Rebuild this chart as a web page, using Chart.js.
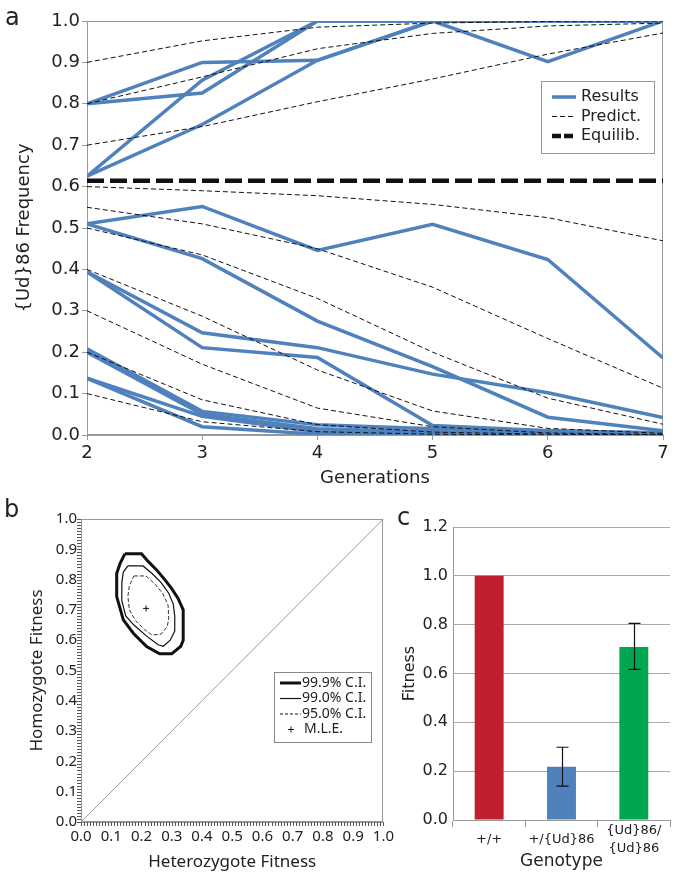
<!DOCTYPE html>
<html>
<head>
<meta charset="utf-8">
<script src="https://cdn.jsdelivr.net/npm/chart.js@4.4.1/dist/chart.umd.min.js"></script>
<style>
  body { margin: 0; background: #fff; width: 675px; height: 877px; position: relative; overflow: hidden; }
  canvas { position: absolute; }
  .tag { position: absolute; font-family: "DejaVu Sans"; font-size: 24px; line-height: 1; color: #222; }
</style>
</head>
<body>
<canvas id="chartA" width="675" height="495" style="left:0;top:0"></canvas>
<canvas id="chartB" width="400" height="387" style="left:0;top:490px"></canvas>
<canvas id="chartC" width="275" height="387" style="left:400px;top:490px"></canvas>
<div class="tag" style="left:5px;top:5px">a</div>
<div class="tag" style="left:4px;top:497px">b</div>
<div class="tag" style="left:397px;top:505px">c</div>
<script>
// ---- panel a data ----
const generations = [2, 3, 4, 5, 6, 7];
const results = [
  [0.80, 0.900, 0.905, 1.000, 1.000, 1.000],
  [0.80, 0.826, 1.000, 1.000, 1.000, 1.000],
  [0.625, 0.857, 1.000, 1.000, 1.000, 1.000],
  [0.625, 0.750, 0.905, 1.000, 0.902, 1.000],
  [0.510, 0.552, 0.446, 0.509, 0.424, 0.186],
  [0.510, 0.426, 0.275, 0.165, 0.043, 0.010],
  [0.394, 0.247, 0.211, 0.147, 0.102, 0.042],
  [0.394, 0.211, 0.187, 0.023, 0.010, 0.005],
  [0.208, 0.057, 0.025, 0.015, 0.010, 0.005],
  [0.200, 0.050, 0.015, 0.008, 0.004, 0.002],
  [0.137, 0.045, 0.008, 0.003, 0.001, 0.000],
  [0.137, 0.020, 0.002, 0.000, 0.000, 0.000]
];
const predicted = [
  [0.90, 0.952, 0.985, 0.995, 0.999, 1.000],
  [0.80, 0.865, 0.933, 0.970, 0.988, 0.995],
  [0.70, 0.745, 0.805, 0.860, 0.920, 0.971],
  [0.60, 0.590, 0.578, 0.557, 0.525, 0.469],
  [0.55, 0.510, 0.450, 0.357, 0.233, 0.113],
  [0.50, 0.435, 0.330, 0.200, 0.089, 0.026],
  [0.40, 0.287, 0.157, 0.058, 0.016, 0.004],
  [0.30, 0.171, 0.065, 0.020, 0.005, 0.001],
  [0.20, 0.085, 0.025, 0.007, 0.002, 0.000],
  [0.10, 0.032, 0.008, 0.002, 0.000, 0.000]
];
const equilibrium = 0.614;
const legendLabelsA = ['Results', 'Predict.', 'Equilib.'];

// ---- panel b data (confidence contours, [heterozygote, homozygote]) ----
const ci999 = [[0.145,0.885],[0.200,0.885],[0.222,0.860],[0.250,0.832],[0.277,0.800],[0.300,0.770],[0.321,0.738],[0.338,0.700],[0.338,0.600],[0.330,0.580],[0.300,0.555],[0.260,0.555],[0.217,0.579],[0.173,0.623],[0.140,0.667],[0.118,0.744],[0.118,0.820],[0.129,0.853],[0.145,0.885]];
const ci990 = [[0.155,0.845],[0.205,0.845],[0.235,0.820],[0.265,0.790],[0.290,0.755],[0.305,0.720],[0.310,0.680],[0.310,0.630],[0.295,0.600],[0.272,0.580],[0.255,0.585],[0.215,0.615],[0.175,0.650],[0.148,0.680],[0.135,0.730],[0.135,0.790],[0.140,0.825],[0.155,0.845]];
const ci950 = [[0.175,0.812],[0.215,0.812],[0.245,0.785],[0.270,0.755],[0.288,0.715],[0.290,0.670],[0.285,0.645],[0.265,0.620],[0.235,0.617],[0.210,0.635],[0.180,0.665],[0.160,0.700],[0.155,0.745],[0.160,0.780],[0.175,0.812]];
const mle = [0.215, 0.705];
const legendLabelsB = ['99.9% C.I.', '99.0% C.I.', '95.0% C.I.', 'M.L.E.'];

// ---- panel c data ----
const genotypes = ['+/+', '+/{Ud}86', ['{Ud}86/', '{Ud}86']];
const fitness = [1.0, 0.218, 0.709];
const errLow = [null, 0.139, 0.617];
const errHigh = [null, 0.298, 0.805];
const barColors = ['#BE1E2D', '#4F81BD', '#00A651'];

const fontA = 'DejaVu Sans';
const fontB = 'Noto Sans';
const ink = '#222';

const styleResults = { borderColor: '#4F81BD', borderWidth: 3.5, borderDash: [] };
const stylePredict = { borderColor: '#111', borderWidth: 1, borderDash: [5, 3] };
const styleEquil = { borderColor: '#111', borderWidth: 4.5, borderDash: [17, 6] };

const toPts = arr => arr.map((v, i) => ({ x: generations[i], y: v }));
const pairPts = arr => arr.map(p => ({ x: p[0], y: p[1] }));

// box around the plot area
const framePlugin = {
  id: 'frame',
  beforeDatasetsDraw(chart, args, opts) {
    if (!opts.color) return;
    const a = chart.chartArea, ctx = chart.ctx;
    ctx.save();
    ctx.strokeStyle = opts.color;
    ctx.lineWidth = 1;
    ctx.strokeRect(Math.round(a.left) + 0.5, Math.round(a.top) + 0.5, Math.round(a.right - a.left) - 1, Math.round(a.bottom - a.top) - 1);
    ctx.restore();
  }
};

/* Chart a */
const dsA = [];
results.forEach(r => dsA.push(Object.assign({ data: toPts(r), pointRadius: 0, order: 2 }, styleResults)));
predicted.forEach(r => dsA.push(Object.assign({ data: toPts(r), pointRadius: 0, order: 1 }, stylePredict)));
dsA.push(Object.assign({ data: [{ x: 2, y: equilibrium }, { x: 7, y: equilibrium }], pointRadius: 0, order: 0 }, styleEquil));

const legendA = {
  id: 'legendA',
  afterDraw(chart) {
    const ctx = chart.ctx;
    const styles = [styleResults, stylePredict, styleEquil];
    ctx.save();
    ctx.fillStyle = '#fff';
    ctx.fillRect(541, 81, 113, 72);
    ctx.strokeStyle = '#999';
    ctx.lineWidth = 1;
    ctx.strokeRect(541.5, 81.5, 113, 72);
    ctx.font = '16px "' + fontA + '"';
    ctx.textBaseline = 'middle';
    legendLabelsA.forEach((t, i) => {
      const y = 97 + i * 19.5;
      const s = styles[i];
      ctx.strokeStyle = s.borderColor;
      ctx.lineWidth = s.borderWidth;
      ctx.setLineDash(i === 2 ? [9, 3] : s.borderDash);
      ctx.beginPath();
      ctx.moveTo(552, y);
      ctx.lineTo(576, y);
      ctx.stroke();
      ctx.setLineDash([]);
      ctx.fillStyle = ink;
      ctx.fillText(t, 581, y);
    });
    ctx.restore();
  }
};

new Chart(document.getElementById('chartA'), {
  type: 'line',
  data: { datasets: dsA },
  plugins: [framePlugin, legendA],
  options: {
    responsive: false,
    animation: false,
    elements: { line: { tension: 0, fill: false } },
    layout: { padding: { top: 21, right: 12, left: 0, bottom: 0 } },
    plugins: { legend: { display: false }, tooltip: { enabled: false }, frame: { color: '#999' } },
    scales: {
      x: {
        type: 'linear', min: 2, max: 7,
        ticks: { stepSize: 1, color: ink, font: { family: fontA, size: 18 }, padding: 3 },
        grid: { drawOnChartArea: false, tickLength: 5, color: '#999' },
        border: { color: '#999' },
        title: { display: true, text: 'Generations', color: ink, font: { family: fontA, size: 18 }, padding: { top: 0, bottom: 6 } },
        afterFit: s => { s.height = 60; }
      },
      y: {
        min: 0, max: 1,
        ticks: { stepSize: 0.1, color: ink, font: { family: fontA, size: 18 }, padding: 2, callback: v => v.toFixed(1) },
        grid: { drawOnChartArea: false, tickLength: 5, color: '#999' },
        border: { color: '#999' },
        title: { display: true, text: '{Ud}86 Frequency', color: ink, font: { family: fontA, size: 18 }, padding: { top: 14, bottom: 0 } },
        afterFit: s => { s.width = 87; }
      }
    }
  }
});

/* Chart b */
const legendB = {
  id: 'legendB',
  afterDraw(chart) {
    const ctx = chart.ctx;
    ctx.save();
    ctx.fillStyle = '#fff';
    ctx.fillRect(274, 182, 97, 70);
    ctx.strokeStyle = '#888';
    ctx.lineWidth = 1;
    ctx.strokeRect(274.5, 182.5, 97, 70);
    ctx.font = '14px "' + fontB + '"';
    ctx.textBaseline = 'middle';
    const widths = [3, 1.2, 1, 0];
    legendLabelsB.forEach((t, i) => {
      const y = 193 + i * 15.5;
      ctx.strokeStyle = '#111';
      if (i < 3) {
        ctx.lineWidth = widths[i];
        ctx.setLineDash(i === 2 ? [3, 2] : []);
        ctx.beginPath();
        ctx.moveTo(280, y);
        ctx.lineTo(301, y);
        ctx.stroke();
        ctx.setLineDash([]);
      } else {
        ctx.lineWidth = 1;
        ctx.beginPath();
        ctx.moveTo(288, y); ctx.lineTo(294, y);
        ctx.moveTo(291, y - 3); ctx.lineTo(291, y + 3);
        ctx.stroke();
      }
      ctx.fillStyle = ink;
      ctx.fillText(t, i < 3 ? 302 : 304, y);
    });
    ctx.restore();
  }
};

// small ruler ticks every 0.01 along both axes of panel b
const minorTicks = {
  id: 'minorTicks',
  afterDraw(chart) {
    const ctx = chart.ctx;
    const xs = chart.scales.x, ys = chart.scales.y;
    const a = chart.chartArea;
    ctx.save();
    ctx.strokeStyle = '#555';
    ctx.lineWidth = 1;
    ctx.beginPath();
    for (let k = 0; k <= 100; k++) {
      const px = Math.round(xs.getPixelForValue(k / 100)) + 0.5;
      ctx.moveTo(px, a.bottom);
      ctx.lineTo(px, a.bottom + 4);
      const py = Math.round(ys.getPixelForValue(k / 100)) + 0.5;
      ctx.moveTo(a.left - 4, py);
      ctx.lineTo(a.left, py);
    }
    ctx.stroke();
    ctx.restore();
  }
};

new Chart(document.getElementById('chartB'), {
  type: 'scatter',
  data: {
    datasets: [
      { data: [{ x: 0, y: 0 }, { x: 1, y: 1 }], showLine: true, borderColor: '#999', borderWidth: 1, pointRadius: 0 },
      { data: pairPts(ci999), showLine: true, borderColor: '#111', borderWidth: 3, pointRadius: 0 },
      { data: pairPts(ci990), showLine: true, borderColor: '#111', borderWidth: 1.2, pointRadius: 0 },
      { data: pairPts(ci950), showLine: true, borderColor: '#333', borderWidth: 1, borderDash: [4, 2], pointRadius: 0 },
      { data: [{ x: mle[0], y: mle[1] }], pointStyle: 'cross', pointRadius: 3, borderColor: '#111', borderWidth: 1 }
    ]
  },
  plugins: [framePlugin, legendB, minorTicks],
  options: {
    responsive: false,
    animation: false,
    layout: { padding: { top: 29, right: 16, left: 0, bottom: 0 } },
    plugins: { legend: { display: false }, tooltip: { enabled: false }, frame: { color: '#999' } },
    scales: {
      x: {
        type: 'linear', min: 0, max: 1,
        ticks: { stepSize: 0.1, autoSkip: false, maxRotation: 0, color: ink, font: { family: fontB, size: 15 }, padding: 6, callback: v => v.toFixed(1) },
        grid: { drawOnChartArea: false, drawTicks: false },
        border: { color: '#999' },
        title: { display: true, text: 'Heterozygote Fitness', color: ink, font: { family: fontB, size: 17 }, padding: { top: 0, bottom: 5 } },
        afterFit: s => { s.height = 55; }
      },
      y: {
        type: 'linear', min: 0, max: 1,
        ticks: { stepSize: 0.1, autoSkip: false, color: ink, font: { family: fontB, size: 15 }, padding: 4, callback: v => v.toFixed(1) },
        grid: { drawOnChartArea: false, drawTicks: false },
        border: { color: '#999' },
        title: { display: true, text: 'Homozygote Fitness', color: ink, font: { family: fontB, size: 17 }, padding: { top: 27, bottom: 0 } },
        afterFit: s => { s.width = 81; }
      }
    }
  }
});

/* Chart c */
const errorBars = {
  id: 'errorBars',
  afterDatasetsDraw(chart) {
    const ctx = chart.ctx;
    const yScale = chart.scales.y;
    const bars = chart.getDatasetMeta(0).data;
    ctx.save();
    ctx.strokeStyle = '#111';
    ctx.lineWidth = 1.2;
    bars.forEach((bar, i) => {
      if (errLow[i] == null) return;
      const x = Math.round(bar.x) + 0.5;
      const y1 = yScale.getPixelForValue(errLow[i]);
      const y2 = yScale.getPixelForValue(errHigh[i]);
      ctx.beginPath();
      ctx.moveTo(x, y1); ctx.lineTo(x, y2);
      ctx.moveTo(x - 6, y1); ctx.lineTo(x + 6, y1);
      ctx.moveTo(x - 6, y2); ctx.lineTo(x + 6, y2);
      ctx.stroke();
    });
    ctx.restore();
  }
};

new Chart(document.getElementById('chartC'), {
  type: 'bar',
  data: {
    labels: genotypes,
    datasets: [{ data: fitness, backgroundColor: barColors, borderWidth: 0, barPercentage: 0.4, categoryPercentage: 1 }]
  },
  plugins: [errorBars],
  options: {
    responsive: false,
    animation: false,
    layout: { padding: { top: 37, right: 5, left: 0, bottom: 0 } },
    plugins: { legend: { display: false }, tooltip: { enabled: false } },
    scales: {
      x: {
        ticks: { color: ink, font: { family: fontA, size: 13, lineHeight: 1.35 }, crossAlign: 'center', padding: 4, maxRotation: 0, autoSkip: false },
        grid: { offset: true, drawOnChartArea: false, tickLength: 7, color: '#999' },
        border: { color: '#999' },
        title: { display: true, text: 'Genotype', color: ink, font: { family: fontA, size: 17 }, padding: { top: 0, bottom: 5 } },
        afterFit: s => { s.height = 57; }
      },
      y: {
        min: 0, max: 1.2,
        ticks: { stepSize: 0.2, color: ink, font: { family: fontA, size: 16 }, padding: 5, callback: v => v.toFixed(1) },
        grid: { color: '#aaa', tickLength: 0 },
        border: { color: '#999' },
        title: { display: true, text: 'Fitness', color: ink, font: { family: fontA, size: 16 }, padding: { top: 0, bottom: 0 } },
        afterFit: s => { s.width = 53; }
      }
    }
  }
});
</script>
</body>
</html>
